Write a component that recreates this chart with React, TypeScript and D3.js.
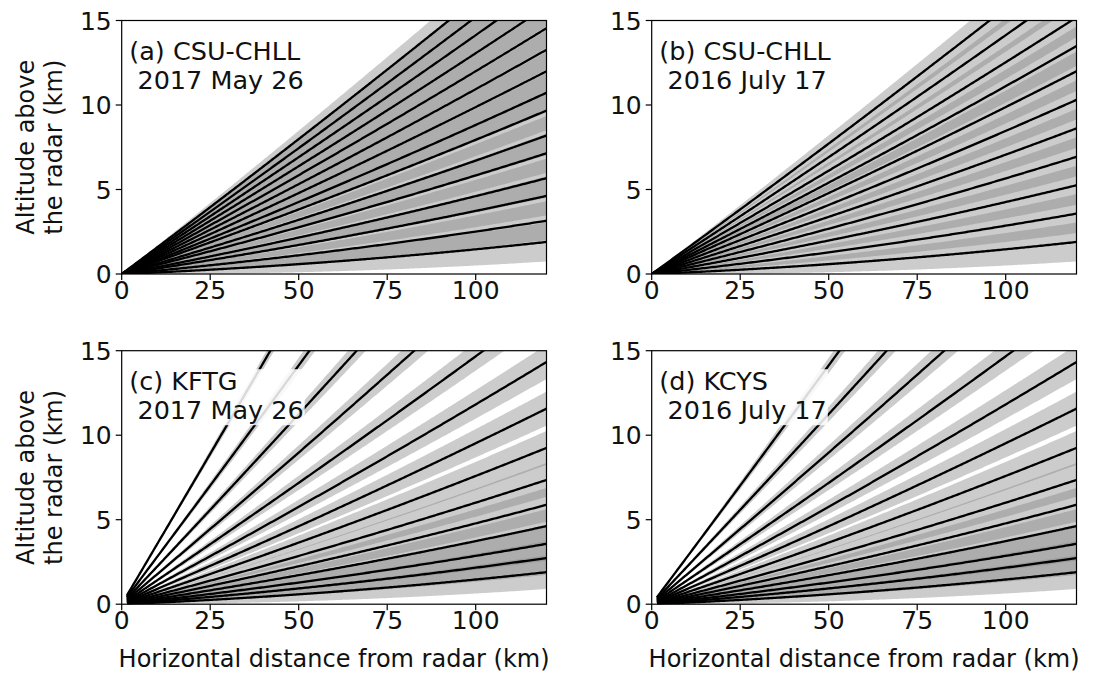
import React, { useLayoutEffect, useRef, useState } from "react";
import * as d3 from "d3";

// ---- data ----
const xTicks = [0, 25, 50, 75, 100];
const yTicks = [0, 5, 10, 15];
const panelNames = ["(a) CSU-CHLL", "(b) CSU-CHLL", "(c) KFTG", "(d) KCYS"];
const panelDates = ["2017 May 26", "2016 July 17", "2017 May 26", "2016 July 17"];
const elevA = [0.5, 1.1, 1.8, 2.3, 3.0, 3.5, 4.2, 4.7, 5.3, 5.9, 6.5, 7.1, 7.7, 8.3, 8.9];
const elevB = [0.5, 1.3, 2.1, 2.9, 3.7, 4.5, 5.3, 6.0, 6.8, 7.7, 8.6];
const elevC = [0.5, 0.9, 1.3, 1.8, 2.4, 3.1, 4.0, 5.1, 6.4, 8.0, 10.0, 12.5, 15.6, 19.5];
const elevD = [0.5, 0.9, 1.3, 1.8, 2.4, 3.1, 4.0, 5.1, 6.4, 8.0, 10.0, 12.5, 15.6];
const beamWidths = [1.1, 1.1, 0.95, 0.95];
const firstGates = [0, 0, 1.5, 1.5];
const xLabel = "Horizontal distance from radar (km)";
const yLabel1 = "Altitude above";
const yLabel2 = "the radar (km)";

const elevations = [elevA, elevB, elevC, elevD];

// ---- layout ----
const W = 424.8;
const H = 253.5;
const panelOrigins = [
  [121.7, 20.5],
  [651.7, 20.5],
  [121.7, 350.7],
  [651.7, 350.7],
];
const FONT = "DejaVu Sans";
const FS = 24;
const FS_TICK = 25;
const FS_NOTE = 25.5;
const RE = 8494; // 4/3 earth radius km

function beamPoint(thetaDeg: number, r: number): [number, number] {
  const t = (thetaDeg * Math.PI) / 180;
  const h = Math.sqrt(r * r + RE * RE + 2 * r * RE * Math.sin(t)) - RE;
  const s = RE * Math.asin((r * Math.cos(t)) / (RE + h));
  return [s, h];
}

function ranges(r0: number): number[] {
  const out: number[] = [];
  for (let r = r0; r <= 140; r += 0.5) out.push(r);
  return out;
}

function Label({ x, y, name, date }: { x: number; y: number; name: string; date: string }) {
  const ref = useRef<SVGTextElement>(null);
  const [bb, setBb] = useState<{ x: number; y: number; width: number; height: number } | null>(null);
  useLayoutEffect(() => {
    if (ref.current) {
      const b = ref.current.getBBox();
      setBb({ x: b.x, y: b.y, width: b.width, height: b.height });
    }
  }, []);
  return (
    <g>
      {bb && (
        <rect x={bb.x - 1} y={bb.y + 3} width={bb.width + 2} height={bb.height - 3} fill="white" opacity={0.85} />
      )}
      <text ref={ref} x={x} y={y} fontFamily={FONT} fontSize={FS_NOTE} fill="#111" style={{ whiteSpace: "pre" }}>
        <tspan x={x} y={y}>{name}</tspan>
        <tspan x={x} y={y + 29}>{" " + date}</tspan>
      </text>
    </g>
  );
}

function Panel({ idx }: { idx: number }) {
  const [x0, y0] = panelOrigins[idx];
  const xs = d3.scaleLinear().domain([0, 120]).range([x0, x0 + W]);
  const ys = d3.scaleLinear().domain([0, 15]).range([y0 + H, y0]);
  const elev = elevations[idx];
  const hw = beamWidths[idx] / 2;
  const rr = ranges(firstGates[idx]);
  const line = d3
    .line<[number, number]>()
    .x((d) => xs(d[0]))
    .y((d) => ys(d[1]));
  const clipId = `clip${idx}`;
  const bandPath = (th: number) => {
    const up = rr.map((r) => beamPoint(th + hw, r));
    const lo = rr.map((r) => beamPoint(th - hw, r)).reverse();
    return line(up.concat(lo) as [number, number][]) + "Z";
  };
  const showY = idx % 2 === 0;
  return (
    <g>
      <defs>
        <clipPath id={clipId}>
          <rect x={x0} y={y0} width={W} height={H} />
        </clipPath>
      </defs>
      <g clipPath={`url(#${clipId})`}>
        {elev.map((th, i) => (
          <path key={"b" + i} d={bandPath(th)} fill="#808080" fillOpacity={0.4} stroke="none" />
        ))}
        {elev.map((th, i) => (
          <path
            key={"l" + i}
            d={line(rr.map((r) => beamPoint(th, r))) || ""}
            fill="none"
            stroke="black"
            strokeWidth={2.3}
          />
        ))}
        <Label x={x0 + 7.6} y={y0 + 39.5} name={panelNames[idx]} date={panelDates[idx]} />
      </g>
      <rect x={x0} y={y0} width={W} height={H} fill="none" stroke="black" strokeWidth={1.2} />
      {xTicks.map((t) => (
        <g key={"xt" + t}>
          <line x1={xs(t)} x2={xs(t)} y1={y0 + H} y2={y0 + H + 6} stroke="black" strokeWidth={1.2} />
          <text x={xs(t)} y={y0 + H + 25} textAnchor="middle" fontFamily={FONT} fontSize={FS_TICK} fill="#111">
            {t}
          </text>
        </g>
      ))}
      {yTicks.map((t) => (
        <g key={"yt" + t}>
          <line x1={x0 - 6} x2={x0} y1={ys(t)} y2={ys(t)} stroke="black" strokeWidth={1.2} />
          <text
            x={x0 - 10}
            y={ys(t) + 9}
            textAnchor="end"
            fontFamily={FONT}
            fontSize={FS_TICK}
            fill="#111"
          >
            {t}
          </text>
        </g>
      ))}
      {showY && (
        <g transform={`translate(0, ${y0 + H / 2}) rotate(-90)`}>
          <text x={0} y={34} textAnchor="middle" fontFamily={FONT} fontSize={FS} fill="#111">
            {yLabel1}
          </text>
          <text x={0} y={62} textAnchor="middle" fontFamily={FONT} fontSize={FS} fill="#111">
            {yLabel2}
          </text>
        </g>
      )}
      {idx >= 2 && (
        <text x={x0 + W / 2} y={y0 + H + 63} textAnchor="middle" fontFamily={FONT} fontSize={FS} fill="#111">
          {xLabel}
        </text>
      )}
    </g>
  );
}

export default function App() {
  return (
    <svg width={1103} height={677} style={{ display: "block", position: "absolute", left: 0, top: 0 }}>
      <rect x={0} y={0} width={1103} height={677} fill="white" />
      {[0, 1, 2, 3].map((i) => (
        <Panel key={i} idx={i} />
      ))}
    </svg>
  );
}
